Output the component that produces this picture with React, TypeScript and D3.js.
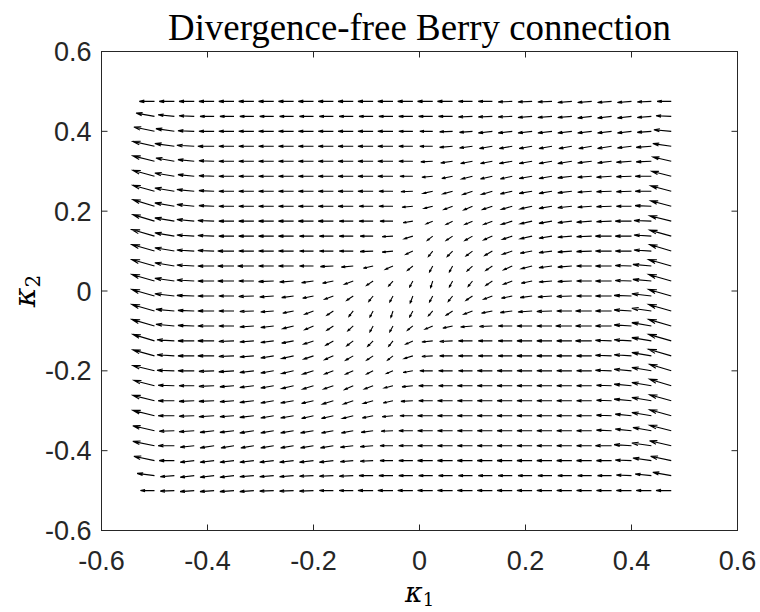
import React from "react";
import * as d3 from "d3";

// Grid of the quiver (kappa_1 columns, kappa_2 rows)
const KAPPA1 = [-0.5, -0.4625, -0.425, -0.3875, -0.35, -0.3125, -0.275, -0.2375, -0.2, -0.1625, -0.125, -0.0875, -0.05, -0.0125, 0.025, 0.0625, 0.1, 0.1375, 0.175, 0.2125, 0.25, 0.2875, 0.325, 0.3625, 0.4, 0.4375, 0.475];
const KAPPA2 = [-0.5, -0.4625, -0.425, -0.3875, -0.35, -0.3125, -0.275, -0.2375, -0.2, -0.1625, -0.125, -0.0875, -0.05, -0.0125, 0.025, 0.0625, 0.1, 0.1375, 0.175, 0.2125, 0.25, 0.2875, 0.325, 0.3625, 0.4, 0.4375, 0.475];

// Berry connection components, rows = KAPPA2 (bottom to top), columns = KAPPA1 (arbitrary units)
const U_FIELD: number[][] = [
  [-13,-13,-13,-13,-13,-13,-13,-13,-13,-13,-13,-14,-14, -14, -14,-14,-14,-14,-14,-14,-14,-14,-14,-14,-14,-14,-14],
  [-16,-13,-13,-13,-13,-13,-13,-13,-13,-13,-13,-13,-13, -13, -13,-13,-13,-13,-13,-13,-13,-13,-13,-13,-14,-15,-17],
  [-19,-14,-13,-13,-13,-13,-13,-13,-13,-13,-12,-12,-12, -13, -14,-14,-14,-14,-14,-14,-14,-14,-14,-14,-15,-17,-19],
  [-20,-15,-13,-13,-12,-12,-12,-12,-12,-12,-12,-12,-12, -13, -14,-14,-14,-14,-14,-14,-14,-14,-14,-15,-16,-18,-20],
  [-20,-14,-14,-13,-13,-13,-12,-12,-12,-11,-11,-11,-11, -13, -14,-14,-14,-14,-14,-14,-14,-14,-14,-14,-15,-17,-20],
  [-20,-15,-14,-14,-13,-13,-12,-12,-11,-11,-10,-10,-10, -12, -14,-14,-14,-14,-14,-14,-14,-14,-14,-14,-15,-18,-20],
  [-20,-15,-14,-14,-13,-13,-12,-12,-11,-10,-9,-9,-9, -11, -13,-14,-14,-14,-14,-14,-14,-14,-14,-14,-16,-18,-20],
  [-19,-15,-14,-14,-13,-13,-12,-11,-10,-9,-8,-8,-8, -10, -13,-13,-14,-14,-14,-14,-14,-14,-14,-14,-16,-18,-20],
  [-20,-16,-15,-14,-14,-13,-12,-11,-10,-8,-7,-6,-6, -9, -12,-13,-13,-14,-14,-14,-14,-14,-14,-15,-16,-18,-20],
  [-20,-16,-15,-15,-14,-13,-12,-11,-9,-8,-7,-6,-5, -8, -10,-12,-13,-13,-13,-14,-14,-14,-14,-15,-16,-18,-21],
  [-20,-16,-15,-15,-14,-13,-12,-11,-9,-7,-6,-5,-4, -6.5, -10,-12,-13,-13,-13,-14,-14,-14,-15,-15,-16,-18,-21],
  [-21,-17,-15,-15,-14,-13,-12,-10,-8,-6,-5,-3,-3, -5, -7,-9,-11,-12,-13,-14,-14,-15,-15,-15,-16,-18,-21],
  [-21,-17,-15,-15,-14,-13,-12,-10,-8,-6,-4,-3,-2, -3, -4,-6,-8,-10,-11,-13,-14,-14,-15,-15,-16,-18,-21],
  [-21,-18,-16,-15,-14,-14,-13,-11,-10,-8,-6,-4,-3, -2.5, -3,-4,-6,-8,-10,-11,-13,-14,-14,-15,-16,-18,-21],
  [-21,-18,-16,-15,-15,-14,-14,-13,-11,-10,-8,-6,-4, -3, -2,-3,-4,-6,-8,-10,-12,-13,-14,-15,-15,-17,-21],
  [-21,-18,-16,-15,-15,-15,-14,-14,-13,-12,-11,-9,-7, -5, -3,-3,-5,-6,-8,-10,-12,-13,-14,-15,-15,-17,-21],
  [-21,-18,-16,-15,-15,-14,-14,-14,-13,-13,-13,-12,-10, -6.5, -4,-5,-6,-7,-9,-11,-12,-13,-14,-15,-15,-16,-20],
  [-21,-18,-16,-15,-14,-14,-14,-14,-13,-13,-13,-12,-10, -8, -5,-6,-7,-8,-9,-11,-12,-13,-14,-15,-15,-16,-20],
  [-20,-18,-16,-15,-14,-14,-14,-14,-14,-14,-13,-13,-12, -9, -6,-6,-7,-8,-10,-11,-12,-13,-14,-14,-15,-16,-20],
  [-20,-18,-16,-14,-14,-14,-14,-14,-14,-14,-14,-13,-13, -10, -8,-8,-8,-9,-10,-11,-12,-13,-13,-14,-14,-15,-19],
  [-20,-18,-16,-14,-14,-14,-14,-14,-14,-14,-14,-14,-13, -11, -9,-9,-9,-10,-11,-12,-12,-13,-13,-14,-14,-15,-19],
  [-20,-18,-15,-14,-14,-14,-14,-14,-14,-14,-14,-14,-14, -12, -10,-10,-10,-11,-11,-12,-12,-13,-13,-14,-14,-15,-18],
  [-20,-17,-15,-14,-14,-14,-14,-14,-14,-14,-14,-14,-14, -13, -11,-11,-11,-11,-12,-12,-12,-13,-13,-13,-14,-14,-17],
  [-20,-18,-16,-15,-14,-14,-14,-14,-14,-14,-14,-14,-14, -13, -12,-12,-12,-12,-12,-12,-12,-12,-12,-13,-13,-14,-17],
  [-19,-17,-15,-14,-14,-14,-14,-14,-14,-14,-14,-14,-14, -13, -12,-12,-12,-13,-13,-13,-13,-13,-13,-13,-13,-13,-16],
  [-17,-15,-14,-13,-13,-13,-13,-13,-13,-13,-13,-13,-13, -13, -13,-13,-13,-13,-13,-13,-13,-13,-13,-13,-13,-13,-14],
  [-14,-14,-14,-14,-14,-14,-14,-14,-14,-14,-14,-14,-14, -14, -14,-14,-13,-13,-13,-13,-13,-13,-13,-13,-13,-13,-13],
];

const V_FIELD: number[][] = [
  [0,-0.7,-1.3,-1.3,-1.3,-1.3,-0.7,-0.7,-0.7,0,0,0,0, 0, 0,0,0,0,0,0,0,0,0,0,0,0,0],
  [2.7,-1.3,-2,-2,-2,-1.3,-1.3,-1.3,-0.7,-0.7,-0.7,0,0, 0, 0,0,0,0,0,0,0,0,0,0,0.7,2,4],
  [5.3,0,-2,-2,-2,-2,-2,-2,-2,-2,-1.3,-0.7,0, 0, 0,0,0,0,0,0,0,0,0,0,0.7,3.3,5.3],
  [5.3,0,-2,-2.7,-2.7,-2.7,-2.7,-2.7,-2.7,-2.7,-2,-1.3,0, 0, 0,0,0,0,0,0,0,0,0,0,1.3,3.3,6],
  [6,-0.7,-1.3,-2,-2,-2.7,-2.7,-2.7,-2.7,-2.7,-2.7,-2,-0.7, 0, 0,0,0,0,0,0,0,0,0,0.7,2,4,6.6],
  [6.6,0,-0.7,-1.3,-1.3,-2,-2.7,-2.7,-3.3,-3.3,-3.3,-2.7,-1.3, 0, 0,0,0,0,0,0,0,0,0,0.7,2,4,7.3],
  [6.6,0,-0.7,-0.7,-1.3,-2,-2.7,-2.7,-3.3,-4,-4,-3.3,-2.7, -0.7, 0,0,0,0,0,0,0,0,0,0.7,2,4,7.3],
  [6.6,0.7,0,-0.7,-1.3,-2,-2.7,-3.3,-4,-4,-4.6,-4,-2.7, -1.3, 0,0,0,0,0,0,0,0,0,0.7,2,4,8],
  [6.6,0.7,0,-0.7,-1.3,-2,-2.7,-3.3,-4,-4,-4,-4,-3.3, -2, 0,0,0,0,0,0,0,0,0,0.7,2,4,8],
  [7.3,1.3,0,0,-0.7,-1.3,-2.7,-3.3,-4,-4.6,-5.3,-5.3,-5.3, -3.3, -0.7,0,0,0,0,0,0,0,0,0.7,1.3,4,8],
  [8,1.3,0,0,-0.7,-1.3,-2,-2.7,-4,-5.3,-6,-6.6,-6.6, -4, -1.3,-0.7,0,0,0,0,0,0,0,0.7,1.3,4,8],
  [8,2,0.7,0,0,-1.3,-2,-3.3,-4.6,-5.3,-6,-7.3,-7.3, -5.3, -4,-2.7,-1.3,-0.7,0,0,0,0,0,0,1.3,4,8],
  [8,2,0.7,0,0,-0.7,-1.3,-2.7,-4,-5.3,-6.6,-7.3,-8, -7.3, -6,-5.3,-4,-2.7,-2,-1.3,-0.7,0,0,0,1.3,3.3,8],
  [8,2.7,0.7,0,0,-0.7,-1.3,-2,-2.7,-4,-5.3,-6.6,-7.3, -8.6, -7.3,-6.6,-5.3,-4,-2.7,-2,-1.3,-0.7,0,0,0.7,2.7,8],
  [8,3.3,1.3,0,0,0,-0.7,-1.3,-2,-2.7,-4,-5.3,-6, -7.3, -8,-7.3,-6.6,-5.3,-4,-2.7,-1.3,-0.7,0,0,0.7,2,8],
  [8,4,1.3,0,0,0,0,0,0,-0.7,-1.3,-2.7,-4, -5.3, -7.3,-7.3,-6,-5.3,-4.6,-3.3,-2,-1.3,0,0,0.7,2,8],
  [8,4,1.3,0.7,0,0,0,0,0,0,0,-0.7,-1.3, -4, -6.6,-6.6,-6,-5.3,-4,-2.7,-2,-1.3,-0.7,0,0,1.3,8],
  [8,4,1.3,0.7,0,0,0,0,0,0,0,0,-0.7, -3.3, -5.3,-5.3,-5.3,-4.6,-4,-3.3,-2.7,-1.3,-0.7,0,0,1.3,7.3],
  [8,4,2,0.7,0,0,0,0,0,0,0,0,0, -2, -3.3,-4,-4,-4,-4,-3.3,-2.7,-2,-1.3,-0.7,0,0.7,6.6],
  [8,4,2,0.7,0,0,0,0,0,0,0,0,0, -1.3, -2.7,-4,-4.6,-4,-4,-3.3,-2.7,-2,-1.3,-0.7,0,0.7,6.6],
  [7.3,4,2,0.7,0,0,0,0,0,0,0,0,0, -0.7, -2.7,-3.3,-4,-4,-3.3,-2.7,-2.7,-2,-1.3,-0.7,-0.7,0,6.6],
  [7.3,4,2,0.7,0,0,0,0,0,0,0,0,0, 0, -1.3,-2.7,-3.3,-3.3,-3.3,-2.7,-2.7,-2,-1.3,-1.3,-0.7,0,6],
  [6.6,4,2,0.7,0,0,0,0,0,0,0,0,0, 0, -0.7,-2,-2.7,-2.7,-2.7,-2.7,-2.7,-2.7,-2,-2,-1.3,-0.7,5.3],
  [6,3.3,1.3,0,0,0,0,0,0,0,0,0,0, 0, 0,-1.3,-2,-2.7,-2.7,-2.7,-2.7,-2.7,-2.7,-2.7,-2,-1.3,3.3],
  [5.3,3.3,0.7,0,0,0,0,0,0,0,0,0,0, 0, 0,-0.7,-1.3,-2,-2,-2,-2,-2,-2,-2,-2,-1.3,2],
  [4,2,0.7,0,0,0,0,0,0,0,0,0,0, 0, 0,0,-0.7,-0.7,-0.7,-1.3,-1.3,-1.3,-2,-2,-2,-1.3,0.7],
  [0,0,0,0,0,0,0,0,0,0,0,0,0, 0, 0,0,0,0,-0.7,-0.7,-0.7,-1.3,-1.3,-1.3,-1.3,-0.7,0],
];

const X_TICKS = [-0.6, -0.4, -0.2, 0, 0.2, 0.4, 0.6];
const Y_TICKS = [-0.6, -0.4, -0.2, 0, 0.2, 0.4, 0.6];
const TICK_LABELS = ["-0.6", "-0.4", "-0.2", "0", "0.2", "0.4", "0.6"];
const TITLE = "Divergence-free Berry connection";

const W = 760;
const H = 612;
const M = { left: 101.5, right: 737.5, top: 51.5, bottom: 530.5 };

export default function App() {
  const x = d3.scaleLinear().domain([-0.6, 0.6]).range([M.left, M.right]);
  const y = d3.scaleLinear().domain([-0.6, 0.6]).range([M.bottom, M.top]);

  // MATLAB-style quiver autoscale
  const n = KAPPA1.length;
  const m = KAPPA2.length;
  const delx = ((d3.max(KAPPA1) as number) - (d3.min(KAPPA1) as number)) / n;
  const dely = ((d3.max(KAPPA2) as number) - (d3.min(KAPPA2) as number)) / m;
  const del = delx * delx + dely * dely;
  let maxlen = 0;
  U_FIELD.forEach((row, j) =>
    row.forEach((u, i) => {
      const v = V_FIELD[j][i];
      maxlen = Math.max(maxlen, Math.sqrt((u * u + v * v) / del));
    })
  );
  const s = 0.9 / maxlen;
  const alpha = 0.33;
  const beta = 0.33;

  let d = "";
  KAPPA2.forEach((k2, j) =>
    KAPPA1.forEach((k1, i) => {
      const uu = U_FIELD[j]?.[i];
      const vv = V_FIELD[j]?.[i];
      if (uu === undefined || vv === undefined) return;
      const u = uu * s;
      const v = vv * s;
      const tx = k1 + u;
      const ty = k2 + v;
      const h1x = tx - alpha * (u + beta * v);
      const h1y = ty - alpha * (v - beta * u);
      const h2x = tx - alpha * (u - beta * v);
      const h2y = ty - alpha * (v + beta * u);
      d += `M${x(k1).toFixed(2)},${y(k2).toFixed(2)}L${x(tx).toFixed(2)},${y(ty).toFixed(2)}`;
      d += `M${x(h1x).toFixed(2)},${y(h1y).toFixed(2)}L${x(tx).toFixed(2)},${y(ty).toFixed(2)}L${x(h2x).toFixed(2)},${y(h2y).toFixed(2)}`;
    })
  );

  const axisColor = "#262626";
  const tickLen = 6;
  const tickFont = "'Liberation Sans', Arial, Helvetica, sans-serif";
  const tickSize = 27;
  const serif = "'DejaVu Serif', 'Liberation Serif', serif";

  return (
    <svg
      width={W}
      height={H}
      viewBox={`0 0 ${W} ${H}`}
      style={{ position: "absolute", left: 0, top: 0, background: "#fff" }}
    >
      <rect x={0} y={0} width={W} height={H} fill="#fff" />
      {/* quiver arrows */}
      <path d={d} fill="none" stroke="#000" strokeWidth={1.1} strokeLinejoin="miter" />

      {/* axes box */}
      <rect
        x={M.left}
        y={M.top}
        width={M.right - M.left}
        height={M.bottom - M.top}
        fill="none"
        stroke={axisColor}
        strokeWidth={1}
      />
      {/* ticks */}
      {X_TICKS.map((t) => (
        <g key={"xt" + t}>
          <line x1={x(t)} x2={x(t)} y1={M.bottom} y2={M.bottom - tickLen} stroke={axisColor} strokeWidth={1} />
          <line x1={x(t)} x2={x(t)} y1={M.top} y2={M.top + tickLen} stroke={axisColor} strokeWidth={1} />
        </g>
      ))}
      {Y_TICKS.map((t) => (
        <g key={"yt" + t}>
          <line x1={M.left} x2={M.left + tickLen} y1={y(t)} y2={y(t)} stroke={axisColor} strokeWidth={1} />
          <line x1={M.right} x2={M.right - tickLen} y1={y(t)} y2={y(t)} stroke={axisColor} strokeWidth={1} />
        </g>
      ))}
      {/* tick labels */}
      {X_TICKS.map((t, k) => (
        <text
          key={"xl" + t}
          x={x(t)}
          y={M.bottom + 39.5}
          textAnchor="middle"
          fontFamily={tickFont}
          fontSize={tickSize}
          fill={axisColor}
        >
          {TICK_LABELS[k]}
        </text>
      ))}
      {Y_TICKS.map((t, k) => (
        <text
          key={"yl" + t}
          x={M.left - 10}
          y={y(t) + 9.6}
          textAnchor="end"
          fontFamily={tickFont}
          fontSize={tickSize}
          fill={axisColor}
        >
          {TICK_LABELS[k]}
        </text>
      ))}

      {/* title */}
      <text
        x={(M.left + M.right) / 2}
        y={40}
        textAnchor="middle"
        fontFamily="'Liberation Serif', 'Times New Roman', serif"
        fontSize={37}
        textLength={503}
        lengthAdjust="spacingAndGlyphs"
        fill="#000"
      >
        {TITLE}
      </text>

      {/* x label */}
      <text
        x={(M.left + M.right) / 2}
        y={602}
        textAnchor="middle"
        fontFamily={serif}
        fontSize={27}
        fill="#000"
      >
        <tspan fontStyle="italic">κ</tspan>
        <tspan fontSize={18} dy={4}>1</tspan>
      </text>

      {/* y label */}
      <text
        transform={`translate(35, ${(M.top + M.bottom) / 2}) rotate(-90)`}
        textAnchor="middle"
        fontFamily={serif}
        fontSize={30}
        fill="#000"
      >
        <tspan fontStyle="italic">κ</tspan>
        <tspan fontSize={20} dy={5}>2</tspan>
      </text>
    </svg>
  );
}
